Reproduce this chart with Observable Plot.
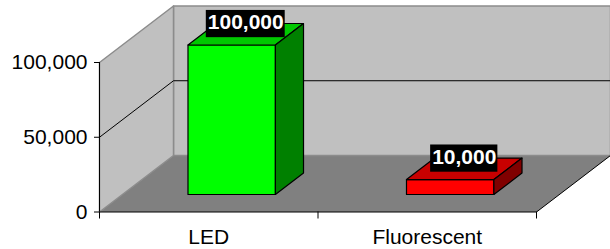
<!DOCTYPE html>
<html>
<head>
<meta charset="utf-8">
<script src="https://cdn.jsdelivr.net/npm/d3@7"></script>
<script src="https://cdn.jsdelivr.net/npm/@observablehq/plot@0.6"></script>
<style>
  html, body { margin: 0; padding: 0; background: #ffffff; }
</style>
</head>
<body>
<div id="chart"></div>
<script>
// ---- data ----
const categories = ["LED", "Fluorescent"];
const values = [100000, 10000];
const valueLabels = ["100,000", "10,000"];
const yTicks = [0, 50000, 100000];
const frontColors = ["#00ff00", "#ff0000"];
const topColors = ["#00c800", "#c80000"];
const sideColors = ["#008000", "#800000"];

// ---- layout / 3-D projection settings (oblique) ----
const W = 610, H = 249;
const M = {left: 99, right: 74, top: 0, bottom: 37.5};
const DEPTH_X = 0.3387;   // band units per unit depth
const DEPTH_Y = 37800;    // value units per unit depth
const WALL_TOP = 100000;
const HALF_W = 0.2;       // half bar width, band units
const D0 = 0.31, D1 = 0.69; // bar depth range
const Y_DOMAIN_MAX = 141472;
const FONT = "'Liberation Sans', Arial, sans-serif";
const LABEL_FS = 21;
const LABEL_DY = -12;

const P = (x, v, d) => ({x: x + d * DEPTH_X, y: v + d * DEPTH_Y});
const n = categories.length;
// data units per pixel (for sizing label boxes around text)
const xPerPx = n / (W - M.left - M.right);
const yPerPx = Y_DOMAIN_MAX / (H - M.top - M.bottom);

const ctx = document.createElement("canvas").getContext("2d");
ctx.font = `bold ${LABEL_FS}px ${FONT}`;

const poly = (pts, fill, stroke, strokeWidth = 1) =>
  Plot.line(pts, {x: "x", y: "y", fill, stroke, strokeWidth, curve: "linear-closed"});
const path = (pts, stroke, strokeWidth = 1) =>
  Plot.line(pts, {x: "x", y: "y", stroke, strokeWidth});

const marks = [];
// floor
marks.push(poly([P(0,0,0), P(n,0,0), P(n,0,1), P(0,0,1)], "#808080", "none"));
// back wall
marks.push(poly([P(0,0,1), P(n,0,1), P(n,WALL_TOP,1), P(0,WALL_TOP,1)], "#c0c0c0", "#8c8c8c", 1.5));
// side wall
marks.push(poly([P(0,0,0), P(0,0,1), P(0,WALL_TOP,1), P(0,WALL_TOP,0)], "#c0c0c0", "#8c8c8c", 1.5));
// floor right edge
marks.push(path([P(n,0,0), P(n,0,1)], "#000", 1));
// gridlines (inner ticks only; top is the wall edge)
yTicks.filter(t => t > 0 && t < WALL_TOP).forEach(t => {
  marks.push(path([P(0,t,0), P(0,t,1), P(n,t,1)], "#000", 1));
});
// axis lines
marks.push(Plot.ruleX([0], {y1: 0, y2: WALL_TOP, stroke: "#000"}));
marks.push(Plot.ruleY([0], {stroke: "#000"}));
marks.push(Plot.axisY({ticks: yTicks, tickSize: 5, tickPadding: 7, tickFormat: d3.format(","), fontSize: 21, label: null}));
marks.push(Plot.axisX({ticks: d3.range(n + 1), tickSize: 7, tickFormat: () => "", label: null}));
marks.push(Plot.text(categories, {x: (d, i) => i + 0.5, y: 0, dy: 25, text: d => d, fontSize: 21, fill: "#000"}));

// bars
values.forEach((v, i) => {
  const c = i + 0.5, l = c - HALF_W, r = c + HALF_W;
  marks.push(poly([P(l,0,D0), P(r,0,D0), P(r,v,D0), P(l,v,D0)], frontColors[i], "#000", 1.2));
  marks.push(poly([P(l,v,D0), P(r,v,D0), P(r,v,D1), P(l,v,D1)], topColors[i], "#000", 1.2));
  marks.push(poly([P(r,0,D0), P(r,0,D1), P(r,v,D1), P(r,v,D0)], sideColors[i], "#000", 1.2));
});

// value labels at top-face centre, on black boxes
const labelData = values.map((v, i) => {
  const p = P(i + 0.5, v, (D0 + D1) / 2);
  const tw = ctx.measureText(valueLabels[i]).width;
  const baseline = LABEL_DY + 0.32 * LABEL_FS;        // px below anchor
  const topPx = baseline - 0.716 * LABEL_FS - 3.5;     // px below anchor
  const botPx = baseline + 8.7;
  return {
    ...p, t: valueLabels[i],
    x1: p.x - (tw / 2 + 1.5) * xPerPx, x2: p.x + (tw / 2 + 1.5) * xPerPx,
    y1: p.y - topPx * yPerPx, y2: p.y - botPx * yPerPx
  };
});
marks.push(Plot.rect(labelData, {x1: "x1", x2: "x2", y1: "y1", y2: "y2", fill: "#000", inset: 0}));
marks.push(Plot.text(labelData, {x: "x", y: "y", text: "t", dy: LABEL_DY, fill: "#fff", fontWeight: "bold", fontSize: LABEL_FS}));

const chart = Plot.plot({
  width: W,
  height: H,
  marginLeft: M.left,
  marginRight: M.right,
  marginTop: M.top,
  marginBottom: M.bottom,
  x: {domain: [0, n], axis: null},
  y: {domain: [0, Y_DOMAIN_MAX], axis: null},
  style: {fontFamily: FONT, fontSize: "20px", background: "#ffffff", color: "#000", overflow: "visible"},
  marks
});
document.getElementById("chart").appendChild(chart);
</script>
</body>
</html>
